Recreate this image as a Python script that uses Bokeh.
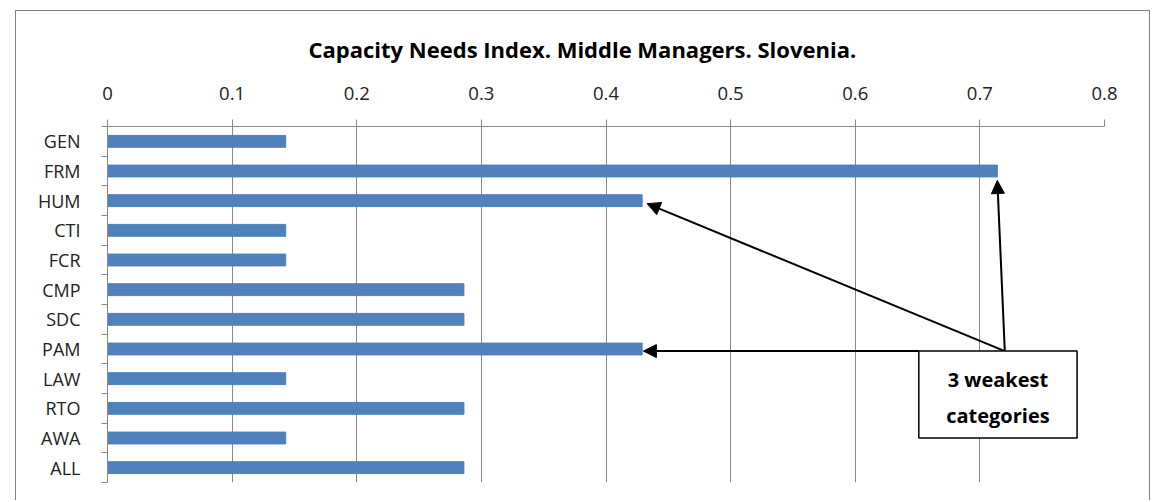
from bokeh.plotting import figure
from bokeh.models import (Range1d, FixedTicker, Arrow, NormalHead, BoxAnnotation,
                          Label, ColumnDataSource)
from bokeh.embed import file_html
from bokeh.resources import INLINE

categories = ["GEN", "FRM", "HUM", "CTI", "FCR", "CMP", "SDC", "PAM", "LAW", "RTO", "AWA", "ALL"]
values = [0.143, 0.714, 0.429, 0.143, 0.143, 0.286, 0.286, 0.429, 0.143, 0.286, 0.143, 0.286]
x_ticks = [0, 0.1, 0.2, 0.3, 0.4, 0.5, 0.6, 0.7, 0.8]
x_tick_labels = ["0", "0.1", "0.2", "0.3", "0.4", "0.5", "0.6", "0.7", "0.8"]
title_text = "Capacity Needs Index. Middle Managers. Slovenia."
note_lines = ["3 weakest", "categories"]

FONT = "Open Sans"
GRID = "#898989"
BAR = "#4F81BD"

ypos = [i + 0.5 for i in range(len(categories))]
src = ColumnDataSource(dict(y=ypos, v=values, cat=categories))

p = figure(width=1135, height=490, output_backend="svg", toolbar_location=None,
           x_range=Range1d(0, 0.8), y_range=Range1d(len(categories), 0),
           x_axis_location="above",
           min_border_left=91, min_border_right=47, min_border_top=115, min_border_bottom=19)
p.margin = (10, 0, 0, 15)
p.styles = {"border-top": "1px solid #808080", "border-left": "1px solid #808080",
            "border-right": "1px solid #808080"}
p.outline_line_color = None
p.background_fill_color = "white"
p.border_fill_color = "white"

p.title.text = title_text
p.title.align = "left"
p.title.offset = 201
p.title.text_font = FONT
p.title.text_font_size = "22px"
p.title.text_font_style = "bold"
p.title.text_color = "#000000"
p.title.standoff = 40

p.hbar(y="y", right="v", left=0, height=0.4, source=src, color=BAR)

# x axis on top
xa = p.xaxis[0]
xa.ticker = FixedTicker(ticks=x_ticks)
xa.major_label_overrides = {t: l for t, l in zip(x_ticks, x_tick_labels)}
xa.major_tick_out = 7
xa.major_tick_in = 0
xa.minor_tick_out = 0
xa.minor_tick_in = 0
xa.axis_line_color = GRID
xa.major_tick_line_color = GRID
xa.major_label_text_font = FONT
xa.major_label_text_font_size = "18.5px"
xa.major_label_text_color = "#222222"
xa.major_label_standoff = 20

# y axis with boundary ticks
ya = p.yaxis[0]
ya.ticker = FixedTicker(ticks=ypos, minor_ticks=list(range(len(categories) + 1)))
ya.major_label_overrides = {y: c for y, c in zip(ypos, categories)}
ya.major_tick_out = 0
ya.major_tick_in = 0
ya.minor_tick_out = 6
ya.minor_tick_in = 0
ya.minor_tick_line_color = GRID
ya.axis_line_color = GRID
ya.major_label_text_font = FONT
ya.major_label_text_font_size = "18px"
ya.major_label_text_color = "#222222"
ya.major_label_standoff = 21

p.xgrid.ticker = FixedTicker(ticks=x_ticks)
p.xgrid.grid_line_color = GRID
p.ygrid.grid_line_color = None

# annotation: arrows and box
iFRM, iHUM, iPAM = categories.index("FRM"), categories.index("HUM"), categories.index("PAM")
apex_x, apex_y = 0.72, ypos[iPAM] + 0.07
box_l, box_r, box_b = 0.651, 0.778, 10.5

head = lambda: NormalHead(size=13, fill_color="black", line_color="black")
p.add_layout(Arrow(x_start=apex_x, y_start=apex_y, x_end=values[iFRM], y_end=ypos[iFRM] + 0.32,
                   line_width=2, end=head(), level="overlay"))
p.add_layout(Arrow(x_start=apex_x, y_start=apex_y, x_end=values[iHUM] + 0.004, y_end=ypos[iHUM] + 0.1,
                   line_width=2, end=head(), level="overlay"))
p.add_layout(Arrow(x_start=box_l, y_start=apex_y, x_end=values[iPAM] + 0.001, y_end=apex_y,
                   line_width=2, end=head(), level="overlay"))

p.add_layout(BoxAnnotation(left=box_l, right=box_r, top=apex_y, bottom=box_b,
                           fill_color="white", fill_alpha=1, line_color="black", line_alpha=1,
                           line_width=1.5, level="overlay"))
cx = (box_l + box_r) / 2
for k, t in enumerate(note_lines):
    p.add_layout(Label(x=cx, y=8.52 + k * 1.23, text=t, text_align="center", text_baseline="middle",
                       text_font=FONT, text_font_size="20px", text_font_style="bold",
                       text_color="black", level="overlay"))

open("out.html", "w").write(file_html(p, INLINE))
